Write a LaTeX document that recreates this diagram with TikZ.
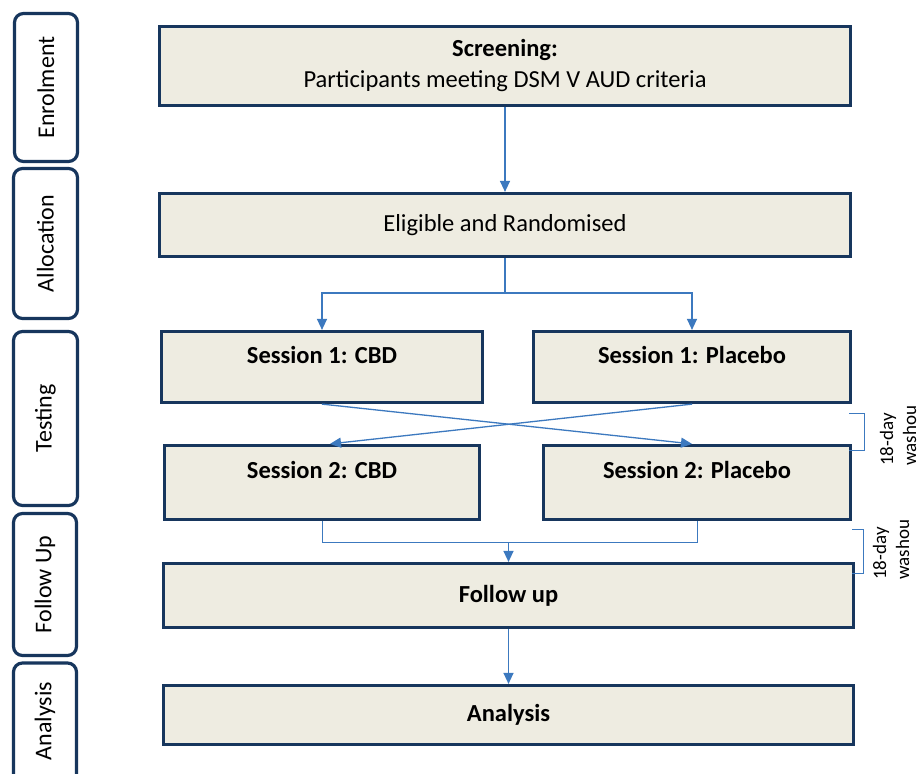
\documentclass[tikz,border=0pt]{standalone}
\usepackage{fontspec}
\setmainfont{Carlito}
\usetikzlibrary{arrows.meta}
\definecolor{boxfill}{HTML}{EEECE1}
\definecolor{navy}{HTML}{17365D}
\definecolor{connc}{RGB}{60,121,191}
\begin{document}
\begin{tikzpicture}[x=1pt,y=-1pt,
  mainbox/.style={draw=navy, line width=3.2pt, fill=boxfill, rectangle, inner sep=0pt,
    font=\fontsize{24.5}{31}\selectfont, align=center},
  sidebox/.style={draw=navy, line width=3.2pt, rounded corners=9pt, fill=white, inner sep=0pt},
  sidetext/.style={rotate=90, font=\fontsize{24}{29}\selectfont, inner sep=0pt},
  boxtext/.style={font=\fontsize{24.5}{31}\selectfont\bfseries, inner sep=0pt, anchor=base},
  washtext/.style={rotate=90, align=left, inner sep=0pt, anchor=west, font=\fontsize{19}{23}\selectfont},
  conn/.style={draw=connc, line width=1.3pt},
  thinconn/.style={draw=connc, line width=1pt},
  arr/.style={conn, -{Triangle[length=11pt,width=10pt]}}
]
\clip (0,0) rectangle (919,774);
\fill[white] (0,0) rectangle (919,774);

% side phase labels
\node[sidebox, minimum width=63pt, minimum height=148pt] (ph1) at (46,87.5) {};
\node[sidetext] (ph1t) at (ph1.center) {Enrolment};
\node[sidebox, minimum width=64pt, minimum height=150pt] (ph2) at (45.5,243.5) {};
\node[sidetext] (ph2t) at (ph2.center) {Allocation};
\node[sidebox, minimum width=64pt, minimum height=174pt] (ph3) at (45.5,418.5) {};
\node[sidetext] (ph3t) at (ph3.center) {Testing};
\node[sidebox, minimum width=63pt, minimum height=142pt] (ph4) at (45,584.5) {};
\node[sidetext] (ph4t) at (ph4.center) {Follow Up};
\node[sidebox, minimum width=63pt, minimum height=126pt] (ph5) at (45,726) {};
\node[sidetext] (ph5t) at (45,721) {Analysis};

% main boxes
\node[mainbox, minimum width=691pt, minimum height=79pt] (scr) at (505,66)
  {\textbf{Screening:}\\Participants meeting DSM V AUD criteria};
\node[mainbox, minimum width=691pt, minimum height=63pt] (elig) at (505,225)
  {Eligible and Randomised};
\node[mainbox, minimum width=321pt, minimum height=71pt] (s1c) at (322,367) {};
\node[boxtext] (s1ct) at (322,363) {Session 1: CBD};
\node[mainbox, minimum width=317pt, minimum height=71pt] (s1p) at (692,367) {};
\node[boxtext] (s1pt) at (692,363) {Session 1: Placebo};
\node[mainbox, minimum width=315pt, minimum height=74pt] (s2c) at (322,482.5) {};
\node[boxtext] (s2ct) at (322,478) {Session 2: CBD};
\node[mainbox, minimum width=307pt, minimum height=74pt] (s2p) at (697,482.5) {};
\node[boxtext] (s2pt) at (697,478) {Session 2: Placebo};
\node[mainbox, minimum width=690pt, minimum height=64pt] (fu) at (508.5,595.5)
  {\textbf{Follow up}};
\node[mainbox, minimum width=690pt, minimum height=59pt] (an) at (508.5,715)
  {\textbf{Analysis}};

% connectors
\draw[arr] (scr.south) -- (elig.north);
\draw[arr] (elig.south) -- ++(0,35) -| (s1c.north);
\draw[arr] (elig.south) -- ++(0,35) -| (s1p.north);
\draw[arr] (s1c.south) -- (s1p.south |- s2p.north);
\draw[arr] (s1p.south) -- ([xshift=8pt]s2c.north);
\coordinate (fj) at (508.5,542);
\draw[thinconn] (s2c.south) -- (s2c.south |- fj) -- (s2p.south |- fj) -- (s2p.south);
\draw[arr] (fj) -- (fu.north);
\draw[arr] (fu.south) -- (an.north);

% washout brackets
\coordinate (b1a) at (849,413);
\coordinate (b1b) at (849,450);
\draw[thinconn] (b1a) -- ++(15,0) -- ++(0,37) -- (b1b);
\coordinate (b2a) at (852,529);
\coordinate (b2b) at (852,573);
\draw[thinconn] (b2a) -- ++(11,0) -- ++(0,44) -- (b2b);
\node[washtext] (w1) at (898,466) {18-day\\washou};
\node[washtext] (w2) at (891,580) {18-day\\washou};
\end{tikzpicture}
\end{document}
